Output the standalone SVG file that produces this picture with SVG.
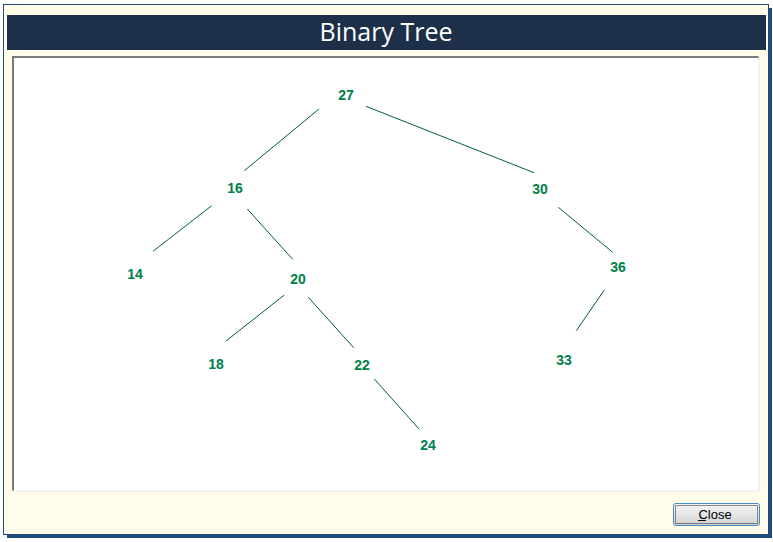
<svg xmlns="http://www.w3.org/2000/svg" width="773" height="542" viewBox="0 0 773 542">
  <defs>
    <linearGradient id="btn" x1="0" y1="0" x2="0" y2="1">
      <stop offset="0" stop-color="#f4f4f4"/>
      <stop offset="0.5" stop-color="#e6e6e6"/>
      <stop offset="1" stop-color="#cfcfcf"/>
    </linearGradient>
  </defs>
  <style>
    .node text { font-family: "Liberation Sans", Arial, sans-serif; font-weight: bold; font-size: 14px; fill: #00804a; text-anchor: middle; }
    .edges line { stroke: #006030; stroke-width: 1; }
  </style>
  <rect x="0" y="0" width="773" height="542" fill="#ffffff"/>
  <!-- window shadow and frame -->
  <rect x="7" y="8" width="765" height="530" fill="#1f4a7c"/>
  <rect x="3.5" y="4.5" width="765" height="530" fill="#fffde9" stroke="#1f4a7c" stroke-width="1"/>
  <!-- title bar -->
  <rect x="7" y="15" width="759" height="35" fill="#1e3049"/>
  <text x="386" y="41" font-family="'Open Sans', 'DejaVu Sans', sans-serif" font-size="25" fill="#ffffff" text-anchor="middle">Binary Tree</text>
  <!-- content panel -->
  <rect x="12" y="56" width="747" height="435" fill="#ffffff"/>
  <polyline points="13,491 13,57 759,57" fill="none" stroke="#7a7a7a" stroke-width="2"/>
  <polyline points="12,491 759,491 759,56" fill="none" stroke="#e8e8e8" stroke-width="1"/>
  <!-- connectors -->
  <g id="connectors" class="edges">
    <line x1="319" y1="109" x2="244.3" y2="170.7"/>
    <line x1="366" y1="106.3" x2="534" y2="172.7"/>
    <line x1="211.7" y1="205.7" x2="153" y2="251.3"/>
    <line x1="247.3" y1="209" x2="292.7" y2="259.3"/>
    <line x1="558.3" y1="207.3" x2="612.7" y2="252.3"/>
    <line x1="284.3" y1="295" x2="226" y2="341"/>
    <line x1="308.3" y1="297.3" x2="353.7" y2="347.7"/>
    <line x1="604.3" y1="290" x2="576.3" y2="330.7"/>
    <line x1="374.3" y1="379" x2="419.3" y2="429.3"/>
  </g>
  <!-- nodes -->
  <g id="n27" class="node"><text x="346" y="100">27</text></g>
  <g id="n16" class="node"><text x="235" y="193">16</text></g>
  <g id="n30" class="node"><text x="540" y="194">30</text></g>
  <g id="n14" class="node"><text x="135" y="279">14</text></g>
  <g id="n20" class="node"><text x="298" y="284">20</text></g>
  <g id="n36" class="node"><text x="618" y="272">36</text></g>
  <g id="n18" class="node"><text x="216" y="369">18</text></g>
  <g id="n22" class="node"><text x="362" y="370">22</text></g>
  <g id="n33" class="node"><text x="564" y="365">33</text></g>
  <g id="n24" class="node"><text x="428" y="450">24</text></g>
  <!-- close button -->
  <g id="close-button">
    <rect x="673.5" y="503.5" width="86" height="22" rx="2" fill="url(#btn)" stroke="#3c8ccc" stroke-width="1"/>
    <rect x="675.5" y="505.5" width="82" height="18" fill="none" stroke="#222222" stroke-width="1" stroke-dasharray="1,1"/>
    <text x="715" y="518.5" font-family="'Liberation Sans', Arial, sans-serif" font-size="13" fill="#000000" text-anchor="middle">Close</text>
    <line x1="698" y1="520.5" x2="706" y2="520.5" stroke="#000000" stroke-width="1"/>
  </g>
</svg>
